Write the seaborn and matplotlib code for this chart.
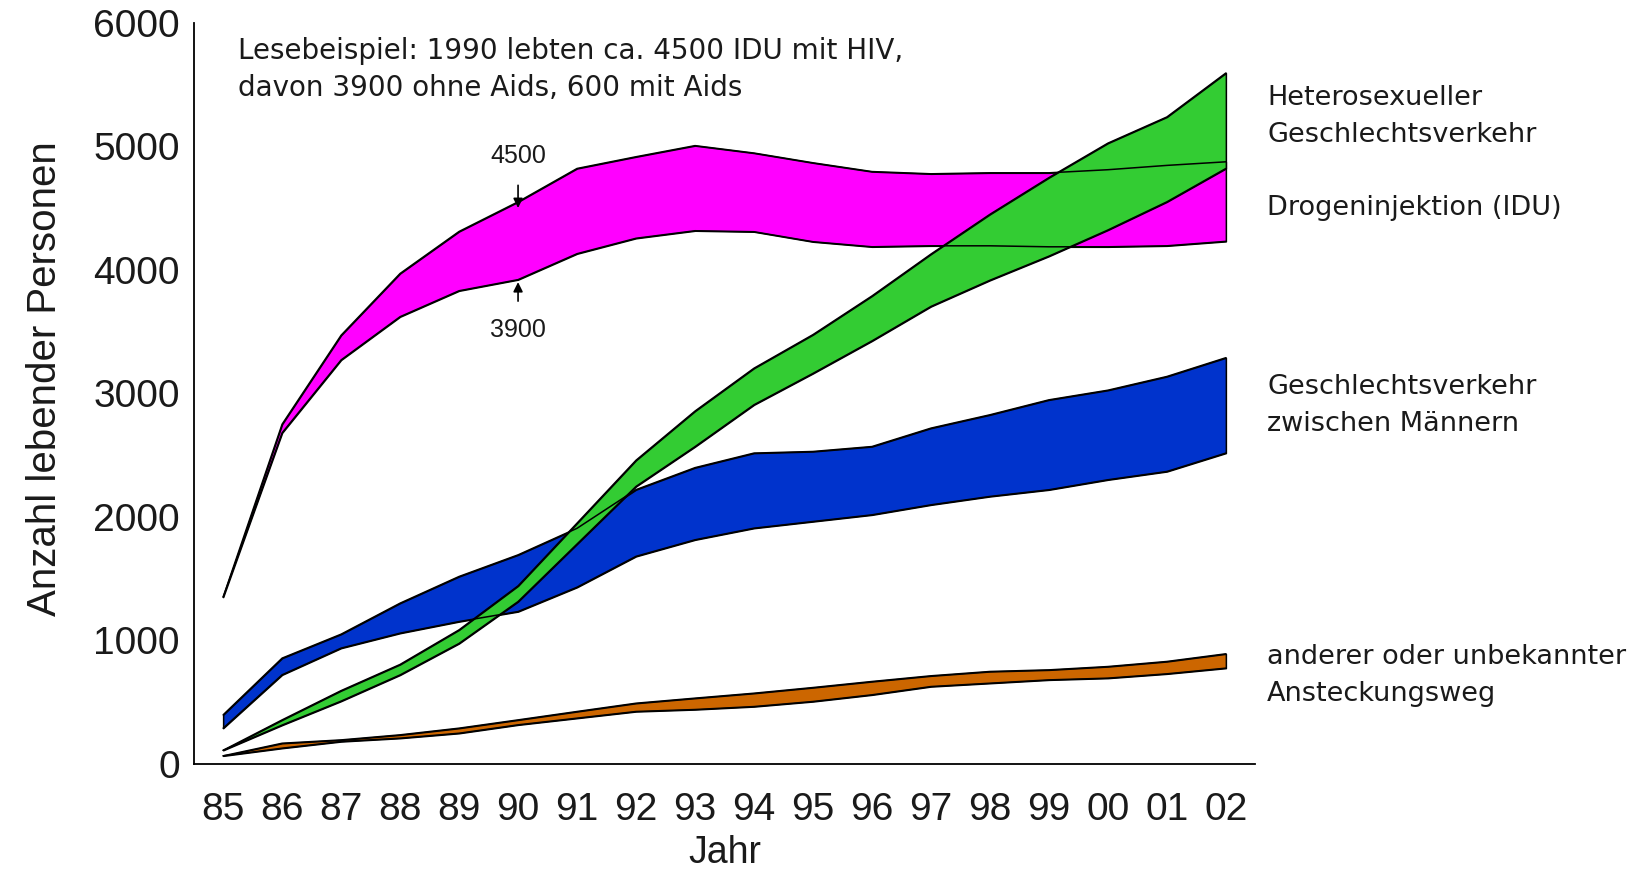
import numpy as np
import matplotlib
matplotlib.use("Agg")
import matplotlib.pyplot as plt
import seaborn as sns

years = ["85", "86", "87", "88", "89", "90", "91", "92", "93",
         "94", "95", "96", "97", "98", "99", "00", "01", "02"]

# living persons with HIV: upper = total, lower = without Aids
idu_upper = [1350, 2750, 3470, 3970, 4310, 4550, 4820, 4915, 5005,
             4945, 4866, 4795, 4777, 4785, 4785, 4810, 4845, 4874]
idu_lower = [1350, 2680, 3270, 3620, 3830, 3920, 4130, 4255, 4316,
             4308, 4227, 4186, 4194, 4194, 4186, 4186, 4194, 4230]
hetero_upper = [110, 356, 593, 805, 1085, 1441, 1949, 2458, 2856,
                3203, 3475, 3788, 4127, 4449, 4746, 5025, 5237, 5593]
hetero_lower = [110, 314, 508, 720, 975, 1314, 1780, 2246, 2568,
                2907, 3161, 3424, 3703, 3915, 4110, 4322, 4550, 4820]
msm_upper = [397, 856, 1050, 1301, 1517, 1692, 1907, 2220, 2398,
             2516, 2529, 2569, 2718, 2826, 2947, 3025, 3136, 3288]
msm_lower = [289, 721, 937, 1058, 1152, 1233, 1430, 1680, 1814,
             1908, 1962, 2016, 2097, 2165, 2219, 2300, 2367, 2516]
other_upper = [65, 167, 194, 235, 289, 356, 424, 491, 532,
               572, 618, 667, 713, 748, 761, 788, 829, 891]
other_lower = [65, 127, 181, 208, 248, 316, 370, 424, 440,
               464, 505, 559, 626, 653, 680, 694, 729, 775]

bands = [
    ("idu", idu_lower, idu_upper, "#ff00ff"),
    ("msm", msm_lower, msm_upper, "#0033cc"),
    ("other", other_lower, other_upper, "#cc6600"),
    ("hetero", hetero_lower, hetero_upper, "#33cc33"),
]

sns.set_style("white")
plt.rcParams["font.family"] = ["Liberation Sans", "DejaVu Sans"]

fig = plt.figure(figsize=(16.41, 8.74), dpi=100)
ax = fig.add_axes([0.118, 0.126, 0.647, 0.848])

x = np.arange(len(years))
for name, lo, up, col in bands:
    ax.fill_between(x, lo, up, facecolor=col, edgecolor="black", lw=1.1, zorder=2)
for name, lo, up, col in bands:
    sns.lineplot(x=x, y=up, color="black", lw=1.1, ax=ax, zorder=3)
    sns.lineplot(x=x, y=lo, color="black", lw=1.1, ax=ax, zorder=3)

ax.set_xlim(-0.5, len(years) - 0.5)
ax.set_ylim(0, 6000)
ax.set_xticks(x)
ax.set_xticklabels(years)
ax.set_xticks(np.arange(-0.5, len(years), 1), minor=True)
ax.set_yticks(range(0, 6001, 1000))
ax.tick_params(axis="x", which="major", length=0, pad=20, labelsize=28, labelcolor="#1a1a1a")
ax.tick_params(axis="x", which="minor", length=8, width=1.2, direction="out", color="black")
ax.tick_params(axis="y", length=6, width=1.2, direction="out", labelsize=28,
               color="black", labelcolor="#1a1a1a", pad=4)

for s in ["top", "right"]:
    ax.spines[s].set_visible(False)
for s in ["left", "bottom"]:
    ax.spines[s].set_color("black")
    ax.spines[s].set_linewidth(1.3)

ax.set_xlabel("Jahr", fontsize=27, color="#1a1a1a", labelpad=5)
ax.set_ylabel("Anzahl lebender Personen", fontsize=29, color="#1a1a1a", labelpad=28)
ax.yaxis.set_label_coords(-0.122, 0.52)

ax.text(0.25, 5620, "Lesebeispiel: 1990 lebten ca. 4500 IDU mit HIV,\ndavon 3900 ohne Aids, 600 mit Aids",
        fontsize=20, color="#1a1a1a", va="center", ha="left", linespacing=1.4,
        family=["DejaVu Sans"])

ax.annotate("4500", xy=(5, 4500), xytext=(5, 4920), ha="center", va="center",
            fontsize=18, color="#1a1a1a",
            arrowprops=dict(arrowstyle="-|>", color="black", lw=1.2, mutation_scale=14,
                            shrinkA=10, shrinkB=0))
ax.annotate("3900", xy=(5, 3900), xytext=(5, 3510), ha="center", va="center",
            fontsize=18, color="#1a1a1a",
            arrowprops=dict(arrowstyle="-|>", color="black", lw=1.2, mutation_scale=14,
                            shrinkA=10, shrinkB=0))

right_labels = [
    ("Heterosexueller\nGeschlechtsverkehr", 5240),
    ("Drogeninjektion (IDU)", 4500),
    ("Geschlechtsverkehr\nzwischen Männern", 2900),
    ("anderer oder unbekannter\nAnsteckungsweg", 715),
]
for txt, yv in right_labels:
    ax.text(17.7, yv, txt, fontsize=19.5, color="#1a1a1a", va="center", ha="left",
            linespacing=1.55, clip_on=False, family=["DejaVu Sans"])

fig.savefig("out.png", dpi=100)
